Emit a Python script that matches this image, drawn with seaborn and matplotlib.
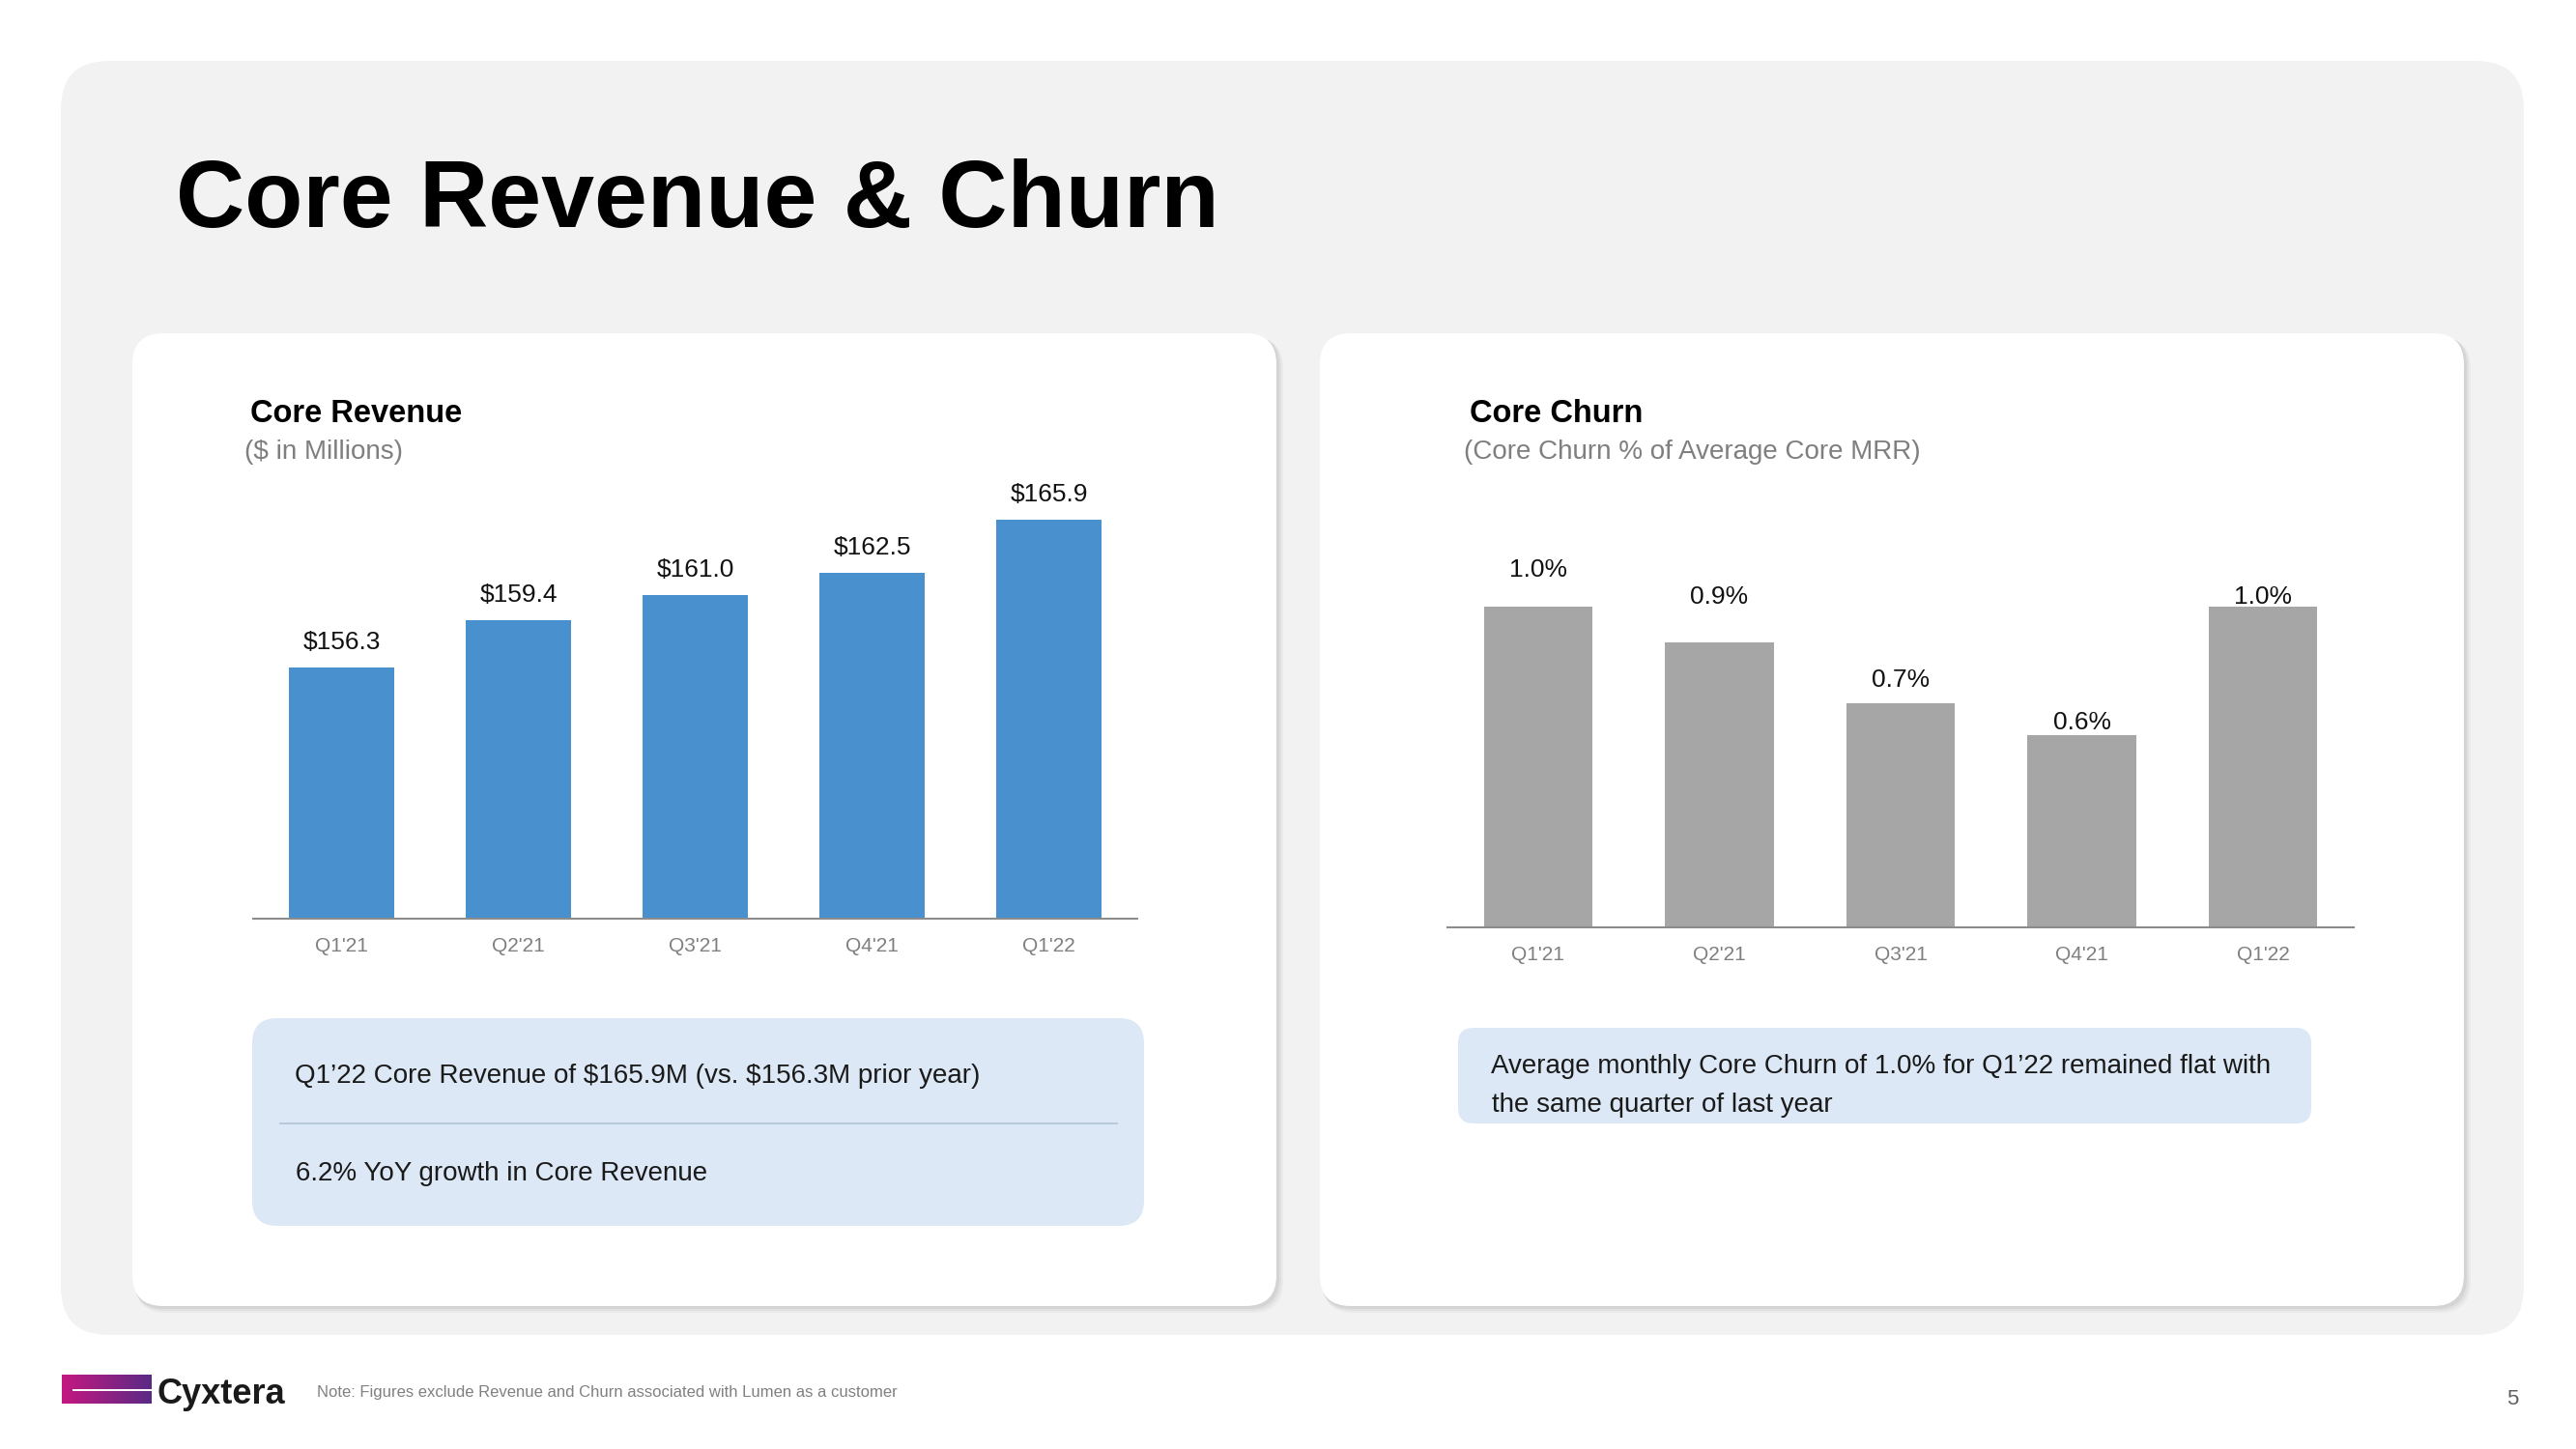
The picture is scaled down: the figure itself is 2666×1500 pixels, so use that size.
import numpy as np
import pandas as pd
import matplotlib
matplotlib.use('Agg')
import matplotlib.pyplot as plt
from matplotlib.patches import FancyBboxPatch
from matplotlib import font_manager as fm
import seaborn as sns

# ---------------- data ----------------
quarters = ["Q1'21", "Q2'21", "Q3'21", "Q4'21", "Q1'22"]
core_revenue = [156.3, 159.4, 161.0, 162.5, 165.9]
revenue_labels = ["$156.3", "$159.4", "$161.0", "$162.5", "$165.9"]
core_churn = [1.00, 0.89, 0.70, 0.60, 1.00]
churn_labels = ["1.0%", "0.9%", "0.7%", "0.6%", "1.0%"]
churn_label_offsets_px = [31, 40, 17, 6, 3]

title = "Core Revenue & Churn"
rev_heading = "Core Revenue"
rev_sub = "($ in Millions)"
churn_heading = "Core Churn"
churn_sub = "(Core Churn % of Average Core MRR)"
rev_note1 = "Q1\u201922 Core Revenue of $165.9M (vs. $156.3M prior year)"
rev_note2 = "6.2% YoY growth in Core Revenue"
churn_note1 = "Average monthly Core Churn of 1.0% for Q1\u201922 remained flat with"
churn_note2 = "the same quarter of last year"
footnote = "Note: Figures exclude Revenue and Churn associated with Lumen as a customer"
brand = "Cyxtera"
page_no = "5"

# ---------------- setup ----------------
sns.set_theme(style='white')
plt.rcParams['font.family'] = ['Liberation Sans', 'DejaVu Sans']
plt.rcParams['text.parse_math'] = False

W, H = 2666, 1500
DPI = 100
def pt(px):
    return px * 72.0 / DPI

fig = plt.figure(figsize=(W / DPI, H / DPI), dpi=DPI)
fig.patch.set_facecolor('white')

bg = fig.add_axes([0, 0, 1, 1], zorder=0)
bg.set_xlim(0, W)
bg.set_ylim(H, 0)
bg.axis('off')

_names = {f.name for f in fm.fontManager.ttflist}
NARROW = 'Liberation Sans Narrow' if 'Liberation Sans Narrow' in _names else None
renderer = fig.canvas.get_renderer()

def _w(s, fp):
    return renderer.get_text_width_height_descent(s, fp, ismath=False)[0]

def tracked(x, y, s, target_w, size_narrow, size_reg, weight='normal', color='black', z=6):
    """Condensed font with letter spacing (like the slide); regular font as fallback."""
    if NARROW is None:
        bg.text(x, y, s, fontsize=size_reg, fontweight=weight, color=color,
                va='baseline', ha='left', zorder=z)
        return
    fp = fm.FontProperties(family=NARROW, size=size_narrow, weight=weight)
    natural = _w(s, fp)
    n = len(s)
    sp = (target_w - natural) / (n - 1) if n > 1 else 0.0
    for i, ch in enumerate(s):
        if ch == ' ':
            continue
        off = _w(s[:i + 1], fp) - _w(ch, fp)
        bg.text(x + off + i * sp, y, ch, fontproperties=fp, color=color,
                va='baseline', ha='left', zorder=z)

def rbox(x0, y0, x1, y1, r, color, z=1, alpha=1.0):
    p = FancyBboxPatch((x0, y0), x1 - x0, y1 - y0,
                       boxstyle=f"round,pad=0,rounding_size={r}",
                       facecolor=color, edgecolor='none', zorder=z, alpha=alpha)
    bg.add_patch(p)

# gray panel
rbox(63, 63, 2612, 1382, 50, '#F2F2F2', z=1)

# cards with soft shadow
for (cx0, cy0, cx1, cy1) in [(137, 345, 1321, 1352), (1366, 345, 2550, 1352)]:
    for d, a in [(7, 0.03), (5, 0.04), (3, 0.05)]:
        rbox(cx0 + d * 0.4, cy0 + d * 0.6, cx1 + d, cy1 + d, 32, '#000000', z=2, alpha=a)
    rbox(cx0, cy0, cx1, cy1, 32, 'white', z=3)

# info boxes
rbox(261, 1054, 1184, 1269, 26, '#DCE8F5', z=4)
bg.plot([289, 1157], [1163, 1163], color='#B5C6D8', lw=1.3, zorder=5, solid_capstyle='butt')
rbox(1509, 1064, 2392, 1163, 16, '#DCE8F5', z=4)

# title
tracked(182, 235, title, 1076, 72, 71, weight='bold', color='black')

# headings
tracked(259, 437, rev_heading, 218, 22.5, 23.5, weight='bold', color='black')
tracked(253, 475, rev_sub, 160, 22, 20, color='#7F7F7F')
tracked(1521, 437, churn_heading, 176, 22.5, 23.5, weight='bold', color='black')
tracked(1515, 475, churn_sub, 473, 22, 20, color='#7F7F7F')

# notes in boxes
bg.text(305, 1121, rev_note1, fontsize=20, color='#1A1A1A', va='baseline', zorder=6)
tracked(306, 1222, rev_note2, 426, 19, 20, color='#1A1A1A')
bg.text(1543, 1111, churn_note1, fontsize=20, color='#1A1A1A', va='baseline', zorder=6)
tracked(1544, 1151, churn_note2, 349, 19, 20, color='#1A1A1A')

# footer
grad = np.linspace(0, 1, 256)
c0 = np.array([0xC4, 0x18, 0x80]) / 255.0
c1 = np.array([0x5A, 0x2A, 0x86]) / 255.0
img = (c0[None, :] * (1 - grad[:, None]) + c1[None, :] * grad[:, None])[None, :, :]
bg.imshow(img, extent=[64, 157, 1453, 1423], aspect='auto', zorder=6, interpolation='bilinear')
bg.plot([75, 157], [1438.5, 1438.5], color='white', lw=1.4, zorder=7, solid_capstyle='butt')
bg.text(162, 1453, brand, fontsize=26, fontweight='bold', color='#1A1A1A', va='baseline', zorder=6)
tracked(328, 1446, footnote, 603, 13, 12, color='#808080')
bg.text(2600, 1454, page_no, fontsize=16, color='#606060', ha='center', va='baseline', zorder=6)
bg.set_xlim(0, W)
bg.set_ylim(H, 0)

# ---------------- charts ----------------
def make_axes(x0, x1, y_bottom, y_top):
    return fig.add_axes([x0 / W, 1 - y_bottom / H, (x1 - x0) / W, (y_bottom - y_top) / H], zorder=2)

def style_axes(ax):
    ax.set_facecolor('none')
    for s in ['top', 'right', 'left']:
        ax.spines[s].set_visible(False)
    ax.spines['bottom'].set_color('#8C8C8C')
    ax.spines['bottom'].set_linewidth(1.5)
    ax.set_yticks([])
    ax.set_xlabel('')
    ax.set_ylabel('')
    ax.tick_params(axis='x', length=0, pad=pt(19), labelsize=15, labelcolor='#7F7F7F')
    ax.set_xlim(-0.5, 4.5)

# left: core revenue
rev_scale = 15.93  # px per $M
ax1 = make_axes(262, 1177, 951, 951 - 30 * rev_scale)
df_rev = pd.DataFrame({'quarter': quarters, 'revenue': core_revenue})
sns.barplot(data=df_rev, x='quarter', y='revenue', color='#4891CE', saturation=1,
            width=0.6, linewidth=0, ax=ax1)
ax1.set_ylim(140, 170)
style_axes(ax1)
for i, (v, lab) in enumerate(zip(core_revenue, revenue_labels)):
    ax1.annotate(lab, xy=(i, v), xytext=(0, pt(19)), textcoords='offset points',
                 ha='center', va='baseline', fontsize=19, color='#111111')

# right: core churn
churn_scale = 332.0  # px per 1%
ax2 = make_axes(1498, 2436, 960, 960 - 1.3 * churn_scale)
df_churn = pd.DataFrame({'quarter': quarters, 'churn': core_churn})
sns.barplot(data=df_churn, x='quarter', y='churn', color='#A6A6A6', saturation=1,
            width=0.6, linewidth=0, ax=ax2)
ax2.set_ylim(0, 1.3)
style_axes(ax2)
for i, (v, lab, off) in enumerate(zip(core_churn, churn_labels, churn_label_offsets_px)):
    ax2.annotate(lab, xy=(i, v), xytext=(0, pt(off)), textcoords='offset points',
                 ha='center', va='baseline', fontsize=19, color='#111111')

fig.savefig('out.png', dpi=DPI, facecolor='white')
